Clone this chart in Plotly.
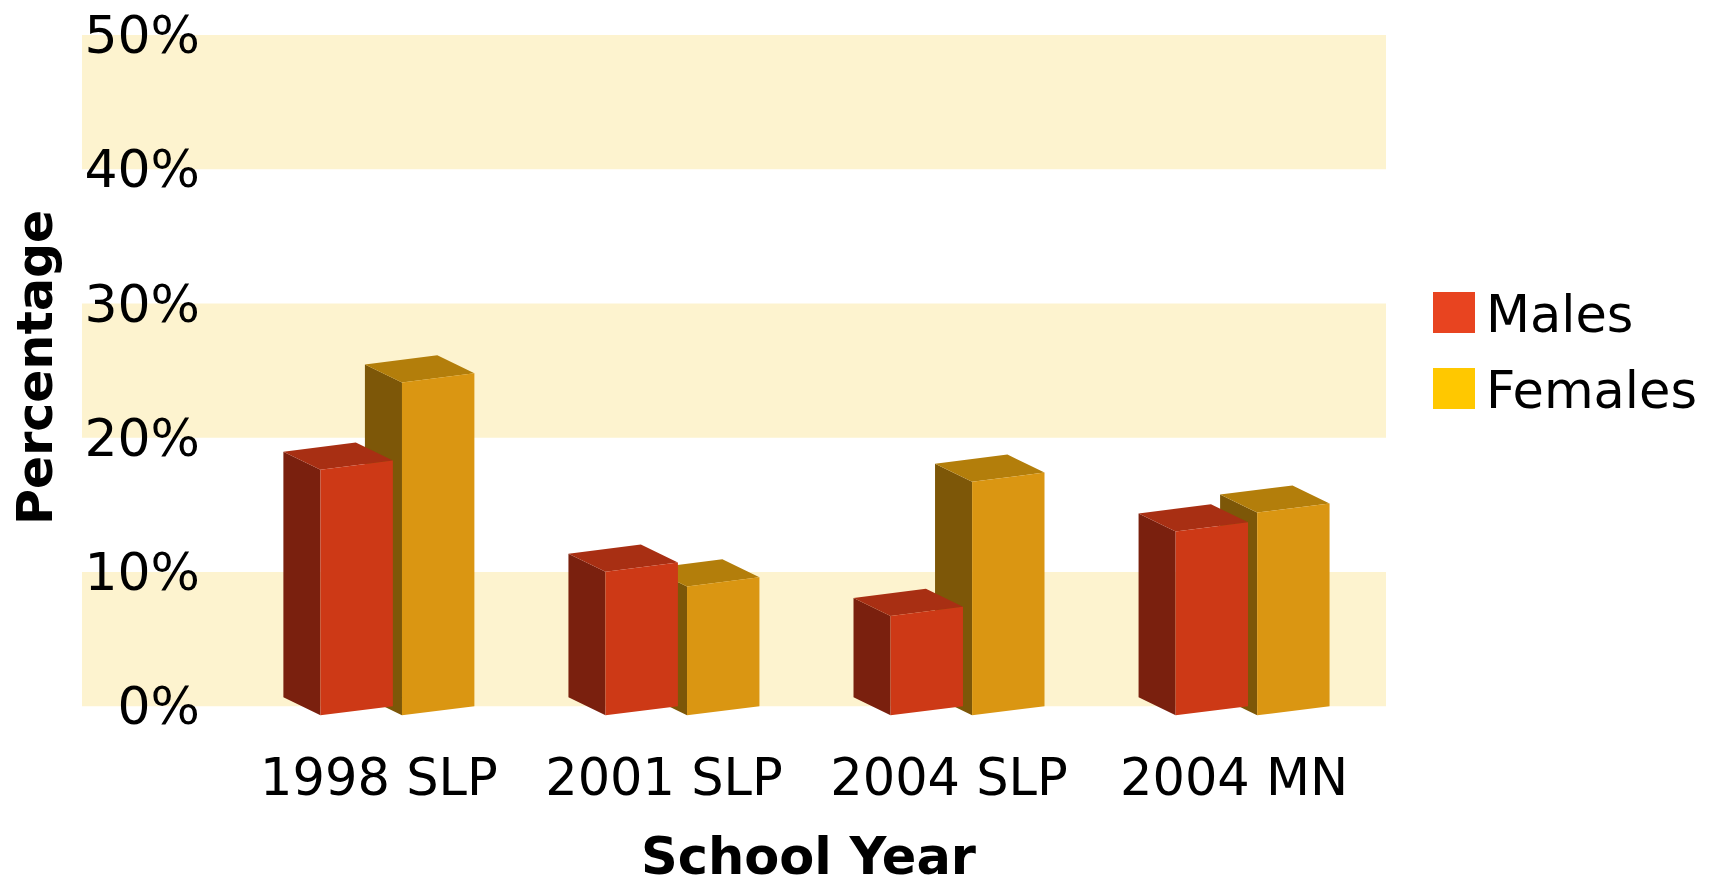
import plotly.graph_objects as go

# ---------------- data ----------------
categories = ["1998 SLP", "2001 SLP", "2004 SLP", "2004 MN"]
males = [18.3, 10.7, 7.4, 13.7]
females = [24.8, 9.6, 17.4, 15.1]
series_names = ["Males", "Females"]
y_tick_values = [0, 10, 20, 30, 40, 50]
y_tick_labels = ["0%", "10%", "20%", "30%", "40%", "50%"]
band_ranges = [(0, 10), (20, 30), (40, 50)]
x_title = "School Year"
y_title = "Percentage"

# ---------------- style / layout ----------------
W, H = 1715, 877
OFF = 8                                       # default page body margin
PL, PR, PT, PB = 205, 1386, 35, 733          # plot area in page pixels
X_RANGE = [-0.675, 3.468]
Y_RANGE = [-2, 50]
FONT = "DejaVu Sans"

MALE_COLORS = dict(front="#CD3916", side="#7A200E", top="#A82F13", legend="#E84420")
FEMALE_COLORS = dict(front="#DA9612", side="#7D5708", top="#B37E0B", legend="#FFC800")
BAND_COLOR = "#FDF3CF"

# 3-D box geometry, in axis units
BAR_W = 0.254
GAP = 0.016
DEPTH_X = -0.13
DEPTH_Y = 1.34
TILT = 0.68
LABEL_SHIFT = DEPTH_X / 2


def px_to_paper_x(px):
    return (px - PL) / (PR - PL)


def px_to_paper_y(py):
    return (PB - py) / (PB - PT)


def faces(xl, xr, v):
    fl_b = (xl, -TILT)
    fr_b = (xr, 0.0)
    fl_t = (xl, -TILT + v)
    fr_t = (xr, v)
    side = [fl_b, fl_t, (xl + DEPTH_X, fl_t[1] + DEPTH_Y), (xl + DEPTH_X, fl_b[1] + DEPTH_Y)]
    top = [fl_t, fr_t, (xr + DEPTH_X, fr_t[1] + DEPTH_Y), (xl + DEPTH_X, fl_t[1] + DEPTH_Y)]
    front = [fl_b, fr_b, fr_t, fl_t]
    return dict(side=side, top=top, front=front)


def series_traces(values, offset_sign, colors, name):
    polys = dict(side=([], []), top=([], []), front=([], []))
    for i, v in enumerate(values):
        if offset_sign < 0:
            xl, xr = i - GAP - BAR_W, i - GAP
        else:
            xl, xr = i + GAP, i + GAP + BAR_W
        f = faces(xl, xr, v)
        for k in ("side", "top", "front"):
            xs, ys = polys[k]
            for (a, b) in f[k] + [f[k][0]]:
                xs.append(a)
                ys.append(b)
            xs.append(None)
            ys.append(None)
    traces = []
    for k in ("side", "top", "front"):
        xs, ys = polys[k]
        traces.append(go.Scatter(
            x=xs, y=ys, mode="lines", fill="toself",
            fillcolor=colors[k], line=dict(width=0, color=colors[k]),
            name=name, showlegend=False, hoverinfo="skip",
        ))
    return traces


fig = go.Figure()
for t in series_traces(females, +1, FEMALE_COLORS, series_names[1]):
    fig.add_trace(t)
for t in series_traces(males, -1, MALE_COLORS, series_names[0]):
    fig.add_trace(t)

shapes = []
for (a, b) in band_ranges:
    shapes.append(dict(type="rect", xref="paper", yref="y",
                       x0=px_to_paper_x(82), x1=px_to_paper_x(1386), y0=a, y1=b,
                       fillcolor=BAND_COLOR, line=dict(width=0), layer="below"))

# manual legend
legend_rows = [(series_names[0], MALE_COLORS["legend"], 292, 333),
               (series_names[1], FEMALE_COLORS["legend"], 368, 409)]
annotations = []
for name, col, y0, y1 in legend_rows:
    shapes.append(dict(type="rect", xref="paper", yref="paper",
                       x0=px_to_paper_x(1433), x1=px_to_paper_x(1475),
                       y0=px_to_paper_y(y1), y1=px_to_paper_y(y0),
                       fillcolor=col, line=dict(width=0)))
    annotations.append(dict(text=name, xref="paper", yref="paper",
                            x=px_to_paper_x(1484), y=px_to_paper_y((y0 + y1) / 2 + 2),
                            xanchor="left", yanchor="middle", showarrow=False,
                            font=dict(family=FONT, size=51, color="#000000")))

annotations.append(dict(text="<b>%s</b>" % x_title, xref="paper", yref="paper",
                        x=px_to_paper_x(808), y=px_to_paper_y(856),
                        xanchor="center", yanchor="middle", showarrow=False,
                        font=dict(family=FONT, size=51, color="#000000")))
annotations.append(dict(text="<b>%s</b>" % y_title, xref="paper", yref="paper",
                        x=px_to_paper_x(35), y=px_to_paper_y(368), textangle=-90,
                        xanchor="center", yanchor="middle", showarrow=False,
                        font=dict(family=FONT, size=49, color="#000000")))

fig.update_layout(
    width=W - OFF, height=H - OFF,
    margin=dict(l=PL - OFF, r=W - PR, t=PT - OFF, b=H - PB, pad=0, autoexpand=False),
    paper_bgcolor="white", plot_bgcolor="white",
    showlegend=False,
    shapes=shapes, annotations=annotations,
    xaxis=dict(range=X_RANGE, tickmode="array",
               tickvals=[i + LABEL_SHIFT for i in range(len(categories))],
               ticktext=categories, showgrid=False, zeroline=False, showline=False,
               ticks="", ticklabelstandoff=10, ticklabeloverflow="allow", automargin=False,
               tickfont=dict(family=FONT, size=51, color="#000000"), fixedrange=True),
    yaxis=dict(range=Y_RANGE, tickmode="array", tickvals=y_tick_values,
               ticktext=y_tick_labels, showgrid=False, zeroline=False, showline=False,
               ticks="", ticklabelstandoff=4, ticklabeloverflow="allow", automargin=False,
               tickfont=dict(family=FONT, size=52, color="#000000"), fixedrange=True),
)

fig.write_html("out.html", config={"displayModeBar": False})
